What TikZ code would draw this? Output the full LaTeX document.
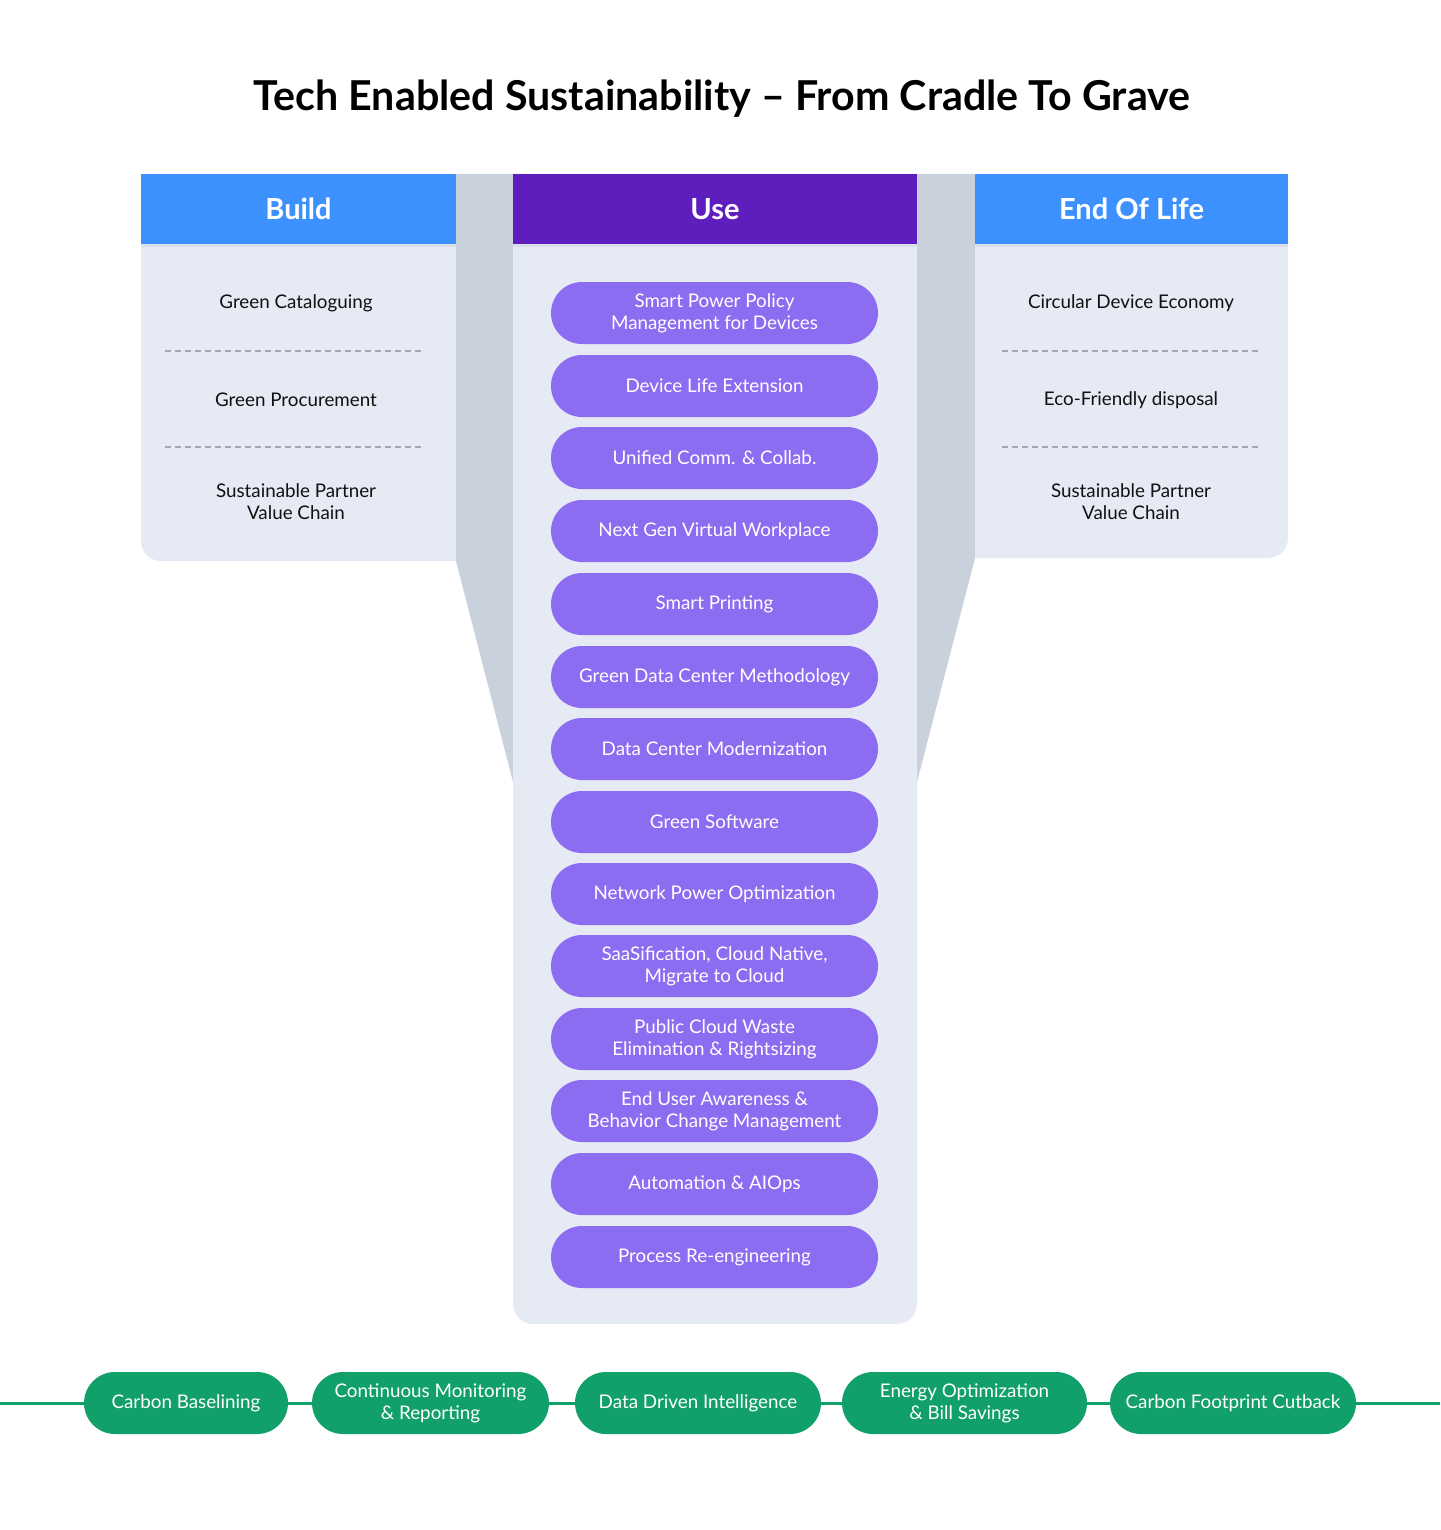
\documentclass[tikz,border=0pt]{standalone}
\usepackage{fontspec}
\setmainfont{Lato}
\usetikzlibrary{shadows}
\definecolor{hdrblue}{HTML}{3D91FF}
\definecolor{hdrpurple}{HTML}{5E1EBE}
\definecolor{panelbg}{HTML}{E6EAF5}
\definecolor{funnel}{HTML}{C8D1DC}
\definecolor{pillpurple}{HTML}{8C6CF0}
\definecolor{pillgreen}{HTML}{12A06A}
\definecolor{dashgrey}{HTML}{A3A7AF}
\definecolor{ink}{HTML}{111111}
\begin{document}
\begin{tikzpicture}[x=0.5pt,y=-0.5pt,
  hdr/.style={minimum height=35pt,inner sep=0pt,text=white,font=\bfseries\fontsize{14.5}{16}\selectfont,
    drop shadow={opacity=0.1,shadow xshift=0pt,shadow yshift=-1.5pt}},
  item/.style={align=center,text=ink,font=\fontsize{9.4}{11}\selectfont},
  upill/.style={fill=pillpurple,rounded corners=15.5pt,minimum width=163.5pt,minimum height=31pt,
    inner sep=0pt,align=center,text=white,font=\fontsize{9.4}{11}\selectfont},
  gpill/.style={fill=pillgreen,rounded corners=15.5pt,minimum height=31pt,
    inner sep=0pt,align=center,text=white,font=\fontsize{9.4}{11}\selectfont},
  sep/.style={draw=dashgrey,dash pattern=on 3pt off 2pt,line width=0.6pt},
  gline/.style={draw=pillgreen,line width=1.5pt}]
\useasboundingbox (0,0) rectangle (1440,1530);
\fill[white] (0,0) rectangle (1440,1530);
% title
\node[font=\bfseries\fontsize{20.6}{23}\selectfont,text=black] (title) at (722,99) {Tech Enabled Sustainability – From Cradle To Grave};
% funnel
\fill[funnel] (456,174) -- (975,174) -- (975,558) -- (917,782) -- (513,782) -- (456,561) -- cycle;
% build panel
\fill[panelbg] (456,174) -- (141,174) -- (141,400) [rounded corners=10pt] -- (141,561) -- (300,561) [sharp corners] -- (456,561) -- cycle;
% use panel
\fill[panelbg] (513,174) -- (513,800) [rounded corners=10pt] -- (513,1324) -- (917,1324) [sharp corners] -- (917,800) -- (917,174) -- cycle;
% eol panel
\fill[panelbg] (975,174) -- (1288,174) -- (1288,400) [rounded corners=10pt] -- (1288,558) -- (1100,558) [sharp corners] -- (975,558) -- cycle;
% headers
\node[hdr,fill=hdrblue,minimum width=157.5pt] (hbuild) at (298.5,209) {Build};
\node[hdr,fill=hdrpurple,minimum width=202pt] (huse) at (715,209) {Use};
\node[hdr,fill=hdrblue,minimum width=156.5pt] (heol) at (1131.5,209) {End Of Life};
% build items
\node[item] (b1) at (296,303) {Green Cataloguing};
\node[item] (b2) at (296,400) {Green Procurement};
\node[item] (b3) at (296,502) {Sustainable Partner\\Value Chain};
\coordinate (bs1a) at (165,351); \coordinate (bs1b) at (421,351);
\coordinate (bs2a) at (165,447); \coordinate (bs2b) at (421,447);
\draw[sep] (bs1a) -- (bs1b);
\draw[sep] (bs2a) -- (bs2b);
% eol items
\node[item] (e1) at (1131,303) {Circular Device Economy};
\node[item] (e2) at (1131,400) {Eco-Friendly disposal};
\node[item] (e3) at (1131,502) {Sustainable Partner\\Value Chain};
\coordinate (es1a) at (1002,351); \coordinate (es1b) at (1258,351);
\coordinate (es2a) at (1002,447); \coordinate (es2b) at (1258,447);
\draw[sep] (es1a) -- (es1b);
\draw[sep] (es2a) -- (es2b);
% use pills
\node[upill] (u1) at (714.5,313) {Smart Power Policy\\Management for Devices};
\node[upill] (u2) at (714.5,386) {Device Life Extension};
\node[upill] (u3) at (714.5,458) {Unified Comm. \& Collab.};
\node[upill] (u4) at (714.5,531) {Next Gen Virtual Workplace};
\node[upill] (u5) at (714.5,604) {Smart Printing};
\node[upill] (u6) at (714.5,677) {Green Data Center Methodology};
\node[upill] (u7) at (714.5,749) {Data Center Modernization};
\node[upill] (u8) at (714.5,822) {Green Software};
\node[upill] (u9) at (714.5,894) {Network Power Optimization};
\node[upill] (u10) at (714.5,966) {SaaSification, Cloud Native,\\Migrate to Cloud};
\node[upill] (u11) at (714.5,1039) {Public Cloud Waste\\Elimination \& Rightsizing};
\node[upill] (u12) at (714.5,1111) {End User Awareness \&\\Behavior Change Management};
\node[upill] (u13) at (714.5,1184) {Automation \& AIOps};
\node[upill] (u14) at (714.5,1257) {Process Re-engineering};
% bottom timeline
\node[gpill,minimum width=102pt] (g1) at (186,1403) {Carbon Baselining};
\node[gpill,minimum width=118.5pt] (g2) at (430.5,1403) {Continuous Monitoring\\\& Reporting};
\node[gpill,minimum width=123pt] (g3) at (698,1403) {Data Driven Intelligence};
\node[gpill,minimum width=122.5pt] (g4) at (964.5,1403) {Energy Optimization\\\& Bill Savings};
\node[gpill,minimum width=123pt] (g5) at (1233,1403) {Carbon Footprint Cutback};
\coordinate (gl) at (0,1403);
\coordinate (gr) at (1440,1403);
\draw[gline] (gl) -- (g1);
\draw[gline] (g1) -- (g2);
\draw[gline] (g2) -- (g3);
\draw[gline] (g3) -- (g4);
\draw[gline] (g4) -- (g5);
\draw[gline] (g5) -- (gr);
\end{tikzpicture}
\end{document}
